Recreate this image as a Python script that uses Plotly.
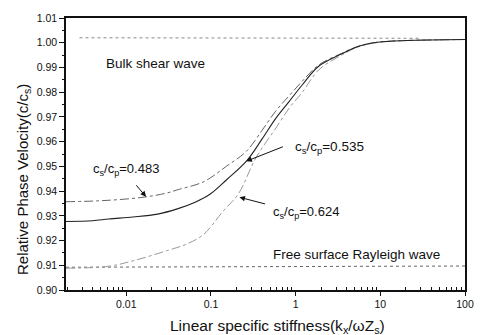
import numpy as np
import plotly.graph_objects as go

# ---- data ----
x_483 = [0.00194, 0.005, 0.0149, 0.03, 0.04, 0.082, 0.153, 0.262, 0.4, 0.585, 0.836, 1.2, 1.87, 3.5, 5.45, 9.3, 20.8, 100]
y_483 = [0.9357, 0.9361, 0.9374, 0.9392, 0.9405, 0.9438, 0.9501, 0.9561, 0.9645, 0.9725, 0.9785, 0.9845, 0.9910, 0.9957, 0.9985, 1.0002, 1.0009, 1.0013]

x_535 = [0.00194, 0.004, 0.0062, 0.012, 0.0235, 0.04, 0.065, 0.098, 0.153, 0.262, 0.4, 0.585, 0.836, 1.2, 1.87, 3.5, 5.45, 9.3, 20.8, 100]
y_535 = [0.9277, 0.9280, 0.9287, 0.9295, 0.9307, 0.9328, 0.9355, 0.9388, 0.9446, 0.9521, 0.9610, 0.9695, 0.9762, 0.9830, 0.9905, 0.9955, 0.9985, 1.0002, 1.0009, 1.0013]

x_624 = [0.00194, 0.0062, 0.0126, 0.0308, 0.0526, 0.082, 0.14, 0.21, 0.34, 0.585, 0.836, 1.2, 1.87, 3.5, 5.45, 9.3, 20.8, 100]
y_624 = [0.9088, 0.9096, 0.9120, 0.9160, 0.9187, 0.9225, 0.9320, 0.9388, 0.9535, 0.9655, 0.9735, 0.9800, 0.9890, 0.9950, 0.9983, 1.0001, 1.0009, 1.0013]

x_bulk = [0.0028, 1, 30]
y_bulk = [1.0020, 1.0020, 1.0018]

x_rayl = [0.00194, 0.1, 100]
y_rayl = [0.9092, 0.9094, 0.9097]

x_tickvals = [0.01, 0.1, 1, 10, 100]
x_ticktext = ["0.01", "0.1", "1", "10", "100"]
x_minor = [m * d for d in [0.001, 0.01, 0.1, 1, 10] for m in range(2, 10)]
y_tickvals = [0.90, 0.91, 0.92, 0.93, 0.94, 0.95, 0.96, 0.97, 0.98, 0.99, 1.00, 1.01]

labels = ["c<sub>s</sub>/c<sub>p</sub>=0.483", "c<sub>s</sub>/c<sub>p</sub>=0.535", "c<sub>s</sub>/c<sub>p</sub>=0.624"]
label_pos = [(0.00381, 0.9489), (0.923, 0.9577), (0.512, 0.9313)]
label_size = [13, 13.5, 13]
arrow_tips = [(0.0171, 0.9377), (0.262, 0.9521), (0.217, 0.9375)]
arrow_offsets = [(-11, -13), (38, -15), (27, 7)]

FONT = "Liberation Sans, Arial, sans-serif"

fig = go.Figure()
fig.add_trace(go.Scatter(x=x_bulk, y=y_bulk, mode="lines",
                         line=dict(color="#888888", width=1, dash="dot"), showlegend=False))
fig.add_trace(go.Scatter(x=x_rayl, y=y_rayl, mode="lines",
                         line=dict(color="#666666", width=1, dash="dot"), showlegend=False))
fig.add_trace(go.Scatter(x=x_483, y=y_483, mode="lines", line_shape="spline",
                         line=dict(color="#666666", width=1, dash="dashdot"), showlegend=False))
fig.add_trace(go.Scatter(x=x_624, y=y_624, mode="lines", line_shape="spline",
                         line=dict(color="#999999", width=1, dash="dashdot"), showlegend=False))
fig.add_trace(go.Scatter(x=x_535, y=y_535, mode="lines", line_shape="spline",
                         line=dict(color="#222222", width=1.1), showlegend=False))

ann = []
ann.append(dict(x=np.log10(0.0054), y=0.9914, xref="x", yref="y", text="Bulk shear wave",
                showarrow=False, xanchor="left", yanchor="middle",
                font=dict(family=FONT, size=13.5, color="#111")))
ann.append(dict(x=np.log10(0.512), y=0.9144, xref="x", yref="y", text="Free surface Rayleigh wave",
                showarrow=False, xanchor="left", yanchor="middle",
                font=dict(family=FONT, size=13.5, color="#111")))
for t, (lx, ly), fs in zip(labels, label_pos, label_size):
    ann.append(dict(x=np.log10(lx), y=ly, xref="x", yref="y", text=t, showarrow=False,
                    xanchor="left", yanchor="middle", font=dict(family=FONT, size=fs, color="#111")))
for (tx, ty), (ax, ay) in zip(arrow_tips, arrow_offsets):
    ann.append(dict(x=np.log10(tx), y=ty, xref="x", yref="y", text="", showarrow=True,
                    ax=ax, ay=ay, arrowhead=2, arrowsize=1.1, arrowwidth=1, arrowcolor="#111"))
# axis titles placed as annotations (paper coords) to match the reference positions
ann.append(dict(x=(281 - 66) / 406, y=-(327 - 290) / 275, xref="paper", yref="paper",
                text="Linear specific stiffness(k<sub>x</sub>/ωZ<sub>s</sub>)",
                showarrow=False, xanchor="center", yanchor="middle",
                font=dict(family=FONT, size=15.5, color="#111")))
ann.append(dict(x=-(66 - 22) / 406, y=(290 - 178) / 275, xref="paper", yref="paper",
                text="Relative Phase Velocity(c/c<sub>s</sub>)", textangle=-90,
                showarrow=False, xanchor="center", yanchor="middle",
                font=dict(family=FONT, size=15, color="#111")))

fig.update_layout(
    width=486, height=335,
    margin=dict(l=66, r=14, t=15, b=45),
    paper_bgcolor="white", plot_bgcolor="white",
    font=dict(family=FONT, color="#111"),
    annotations=ann,
)
fig.update_xaxes(type="log", range=[np.log10(0.00194), 2],
                 tickvals=x_tickvals, ticktext=x_ticktext,
                 ticks="outside", ticklen=4, tickcolor="#111",
                 minor=dict(tickvals=x_minor, ticks="inside", ticklen=3, tickcolor="#111", showgrid=False),
                 showline=True, linecolor="#111", linewidth=1.5, mirror=True,
                 showgrid=False, zeroline=False,
                 tickfont=dict(family=FONT, size=10.5))
fig.update_yaxes(range=[0.90, 1.01], tickvals=y_tickvals, tickformat=".2f",
                 ticks="outside", ticklen=5, tickcolor="#111",
                 minor=dict(dtick=0.005, ticks="outside", ticklen=2, tickcolor="#111", showgrid=False),
                 showline=True, linecolor="#111", linewidth=1.5, mirror=True,
                 showgrid=False, zeroline=False,
                 tickfont=dict(family=FONT, size=10.5))

fig.write_html("out.html")
